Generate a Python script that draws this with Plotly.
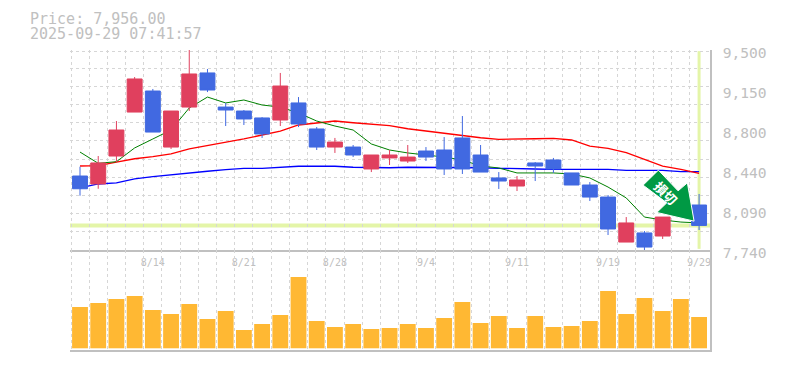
import plotly.graph_objects as go

dates = ["8/14", "8/21", "8/28", "9/4", "9/11", "9/19", "9/29"]
date_index = [4, 9, 14, 19, 24, 29, 34]
price_ticks = [7740, 8092, 8444, 8796, 9148, 9500]
price_labels = ["7,740", "8,090", "8,440", "8,800", "9,150", "9,500"]
opens = [8391, 8321, 8567, 8954, 9139, 8646, 8998, 9298, 8998, 8963, 8902, 8884, 9034, 8805, 8646, 8646, 8453, 8550,
         8523, 8611, 8620, 8726, 8576, 8374, 8303, 8506, 8532, 8418, 8312, 8206, 7810, 7890, 7863, 8060, 8136]
highs = [8473, 8567, 8875, 9262, 9157, 8963, 9500, 9333, 9034, 8972, 8910, 9298, 9086, 8822, 8726, 8664, 8576, 8620,
         8664, 8646, 8734, 8919, 8664, 8426, 8391, 8514, 8550, 8418, 8338, 8224, 8030, 7907, 8030, 8230, 8233]
lows = [8218, 8279, 8514, 8954, 8778, 8629, 8963, 9130, 8831, 8840, 8726, 8831, 8822, 8620, 8594, 8558, 8426, 8488,
        8506, 8523, 8400, 8409, 8426, 8277, 8259, 8347, 8418, 8312, 8171, 7872, 7810, 7740, 7837, 8040, 7916]
closes = [8279, 8506, 8796, 9245, 8778, 8963, 9289, 9148, 8972, 8893, 8761, 9183, 8849, 8646, 8690, 8576, 8576, 8576,
          8558, 8558, 8453, 8453, 8426, 8347, 8356, 8479, 8453, 8312, 8206, 7925, 7978, 7766, 8030, 8190, 7956]
ma_short = [8602, 8503, 8517, 8638, 8717, 8796, 8990, 9086, 9034, 9060, 9016, 8998, 8946, 8875, 8831, 8796, 8673, 8620,
            8594, 8576, 8558, 8532, 8479, 8462, 8418, 8418, 8418, 8409, 8374, 8294, 8198, 8030, 8004, 7986, 7978]
ma_mid = [8479, 8482, 8514, 8543, 8561, 8585, 8629, 8658, 8684, 8717, 8752, 8787, 8840, 8858, 8875, 8860, 8846, 8834,
          8807, 8787, 8767, 8743, 8728, 8714, 8714, 8719, 8723, 8708, 8655, 8635, 8596, 8538, 8479, 8450, 8415]
ma_long = [8286, 8321, 8330, 8365, 8385, 8403, 8420, 8433, 8447, 8459, 8459, 8468, 8477, 8477, 8477, 8468, 8464, 8464,
           8468, 8468, 8468, 8468, 8464, 8459, 8453, 8453, 8450, 8450, 8450, 8450, 8441, 8441, 8441, 8429, 8429]
volumes = [41.3, 45.3, 49.3, 52.3, 38.3, 34.3, 44.3, 29.3, 37.3, 18.3, 24.3, 33.3, 71.3, 27.3, 21.3, 24.3, 19.3, 20.3,
           24.3, 20.3, 30.3, 46.3, 25.3, 32.3, 20.3, 32.3, 21.3, 22.3, 27.3, 57.3, 34.3, 50.3, 37.3, 49.3, 31.3]
last_price = 7956

GREY = "#c0c0c0"
GRID = "#d6d6d6"
RED = "#e0405e"
BLUE = "#4169e1"
HILITE = "#e4f5a8"
MONO = "DejaVu Sans Mono"
idx = list(range(len(closes)))
x_range = [-0.55, 34.6]
y_range = [7740, 9500]
x_grid = [-0.49] + [i + 0.5 for i in idx[:-1]]
y_grid = [7740 + 160 * i for i in range(11)] + [9489]

fig = go.Figure()
fig.add_trace(go.Scatter(x=idx, y=ma_long, mode="lines", line=dict(color="#0000ff", width=1.3), xaxis="x", yaxis="y"))
fig.add_trace(go.Scatter(x=idx, y=ma_mid, mode="lines", line=dict(color="#ff0000", width=1.3), xaxis="x", yaxis="y"))
fig.add_trace(go.Scatter(x=idx, y=ma_short, mode="lines", line=dict(color="#008000", width=1), xaxis="x", yaxis="y"))
fig.add_trace(go.Candlestick(
    x=idx, open=opens, high=highs, low=lows, close=closes, xaxis="x", yaxis="y3",
    increasing=dict(line=dict(color=RED, width=1), fillcolor=RED),
    decreasing=dict(line=dict(color=BLUE, width=1), fillcolor=BLUE),
    whiskerwidth=0,
))
fig.add_trace(go.Bar(x=idx, y=volumes, width=0.87, marker=dict(color="#ffb833", line=dict(width=0)),
                     xaxis="x2", yaxis="y2"))

fig.update_layout(
    width=785, height=370, showlegend=False, boxgap=0.18, boxgroupgap=0,
    margin=dict(l=62, r=83, t=42, b=28, autoexpand=False),
    paper_bgcolor="white", plot_bgcolor="white",
    xaxis=dict(domain=[0, 1], anchor="y", range=x_range, tickmode="array", tickvals=date_index, ticktext=dates,
               tickfont=dict(family=MONO, size=10, color=GREY), showgrid=False, zeroline=False, ticks="",
               ticklabelstandoff=2, showline=True, linecolor=GREY, linewidth=1.5, rangeslider=dict(visible=False),
               ticklabeloverflow="allow",
               minor=dict(tickmode="array", tickvals=x_grid, showgrid=True, gridcolor=GRID, gridwidth=1,
                          griddash="3px,3px", ticks="")),
    yaxis=dict(domain=[1 / 3, 1], anchor="x", side="right", range=y_range, tickmode="array", tickvals=price_ticks,
               ticktext=price_labels, tickfont=dict(family=MONO, size=14.6, color=GREY), showgrid=False, zeroline=False,
               ticks="", ticklabelstandoff=8, ticklabelshift=3, showline=True, linecolor=GREY, linewidth=1.5,
               ticklabeloverflow="allow",
               minor=dict(tickmode="array", tickvals=y_grid, showgrid=True, gridcolor=GRID, gridwidth=1,
                          griddash="3px,3px", ticks="")),
    yaxis3=dict(domain=[1 / 3, 1], anchor="x", overlaying="y", side="right", range=y_range, visible=False),
    xaxis2=dict(domain=[0, 1], anchor="y2", matches="x", showticklabels=False, showgrid=False, zeroline=False, ticks="",
                showline=True, linecolor=GREY, linewidth=1.5,
                minor=dict(tickmode="array", tickvals=x_grid, showgrid=True, gridcolor=GRID, gridwidth=1,
                           griddash="3px,3px", ticks="")),
    yaxis2=dict(domain=[0, 1 / 3], anchor="x2", side="right", range=[-1.7, 98.3], showticklabels=False, showgrid=False,
                zeroline=False, ticks="", showline=True, linecolor=GREY, linewidth=1.5),
    shapes=[
        dict(type="line", xref="x", yref="y", x0=x_range[0], x1=x_range[1], y0=last_price, y1=last_price,
             line=dict(color=HILITE, width=4), layer="below"),
        dict(type="line", xref="x", yref="y", x0=idx[-1], x1=idx[-1], y0=7750, y1=9490,
             line=dict(color=HILITE, width=3), layer="below"),
        dict(type="path", xref="x", yref="y", xsizemode="pixel", ysizemode="pixel", xanchor=idx[-1], yanchor=last_price,
             path="M -5 4.3 L -11.7 42.6 L -21 34.6 L -40.7 55.3 L -56 40.3 L -32.3 22.6 L -42.3 13 Z",
             fillcolor="#009944", line=dict(color="white", width=1), layer="above"),
    ],
    annotations=[
        dict(text="Price: 7,956.00", xref="paper", yref="paper", x=-42 / 640, y=1 + 31.5 / 300, xanchor="left",
             yanchor="middle", showarrow=False, font=dict(family=MONO, size=15, color=GREY)),
        dict(text="2025-09-29 07:41:57", xref="paper", yref="paper", x=-42 / 640, y=1 + 16.5 / 300, xanchor="left",
             yanchor="middle", showarrow=False, font=dict(family=MONO, size=15, color=GREY)),
        dict(text="<b>損切</b>", xref="x", yref="y", x=idx[-1], y=last_price, xshift=-33.5, yshift=33, textangle=45,
             showarrow=False, font=dict(family="Noto Sans CJK JP", size=13, color="white")),
    ],
)
fig.write_html("out.html")
